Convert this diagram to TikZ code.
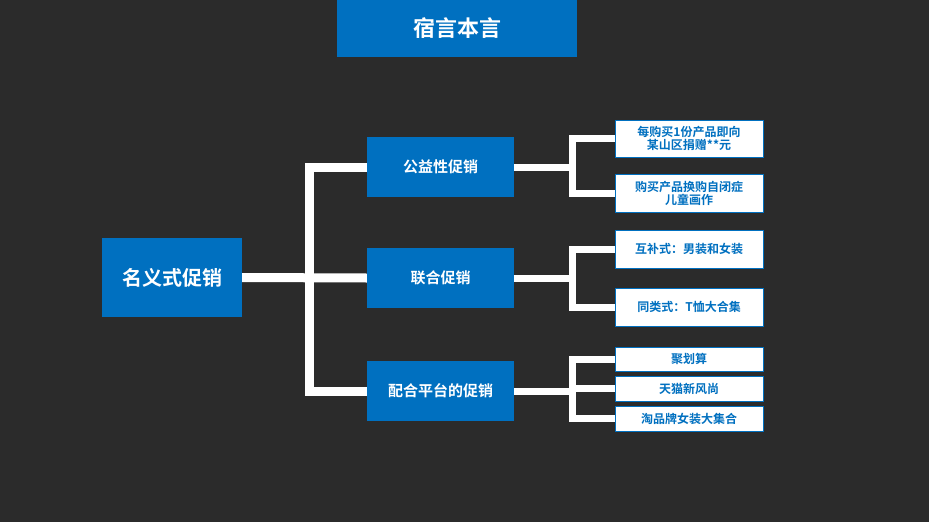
\documentclass[tikz,border=0pt]{standalone}
\usepackage{fontspec}
\setmainfont{Noto Sans CJK SC}[BoldFont={* Bold}]
\begin{document}
\begin{tikzpicture}[x=1pt,y=-1pt,
  bluebox/.style={fill=blue0,text=white,font=\bfseries,inner sep=0,align=center},
  leaf/.style={fill=white,draw=blue0,line width=1pt,text=blue0,font=\bfseries\fontsize{12}{13}\selectfont,minimum width=148pt,inner sep=0,align=center},
  link/.style={white,line width=9pt},
  slink/.style={white,line width=7pt}]
\definecolor{blue0}{HTML}{0070C0}
\fill[fill={rgb,255:red,43;green,43;blue,43}] (0,0) rectangle (929,522);
\useasboundingbox (0,0) rectangle (929,522);
\node[bluebox,minimum width=240pt,minimum height=57pt,font=\bfseries\fontsize{22}{24}\selectfont] (title) at (457,28.5) {宿言本言};
\node[bluebox,minimum width=140pt,minimum height=79pt,font=\bfseries\fontsize{20}{22}\selectfont] (main) at (172,277.5) {名义式促销};
\foreach \n/\y/\t in {m1/167/公益性促销,m2/278/联合促销,m3/391/配合平台的促销}
  \node[bluebox,minimum width=147pt,minimum height=60pt,font=\bfseries\fontsize{15}{17}\selectfont] (\n) at (440.5,\y) {\t};
\node[leaf,minimum height=37pt] (l1) at (689,138.5) {每购买1份产品即向\\某山区捐赠**元};
\node[leaf,minimum height=38pt] (l2) at (689,193) {购买产品换购自闭症\\儿童画作};
\node[leaf,minimum height=38pt] (l3) at (689,249) {互补式：男装和女装};
\node[leaf,minimum height=38pt] (l4) at (689,307) {同类式：T恤大合集};
\node[leaf,minimum height=24pt] (l5) at (689,359) {聚划算};
\node[leaf,minimum height=25pt] (l6) at (689,388.5) {天猫新风尚};
\node[leaf,minimum height=25pt] (l7) at (689,418.5) {淘品牌女装大集合};
\draw[link] (main.east) -- (m2.west);
\draw[link] (m1.west) -- ++(-57,0) |- (m3.west);
\draw[slink] (m1.east) -- ++(59,0);
\draw[slink] (l1.west) -- ++(-42,0) |- (l2.west);
\draw[slink] (m2.east) -- ++(59,0);
\draw[slink] (l3.west) -- ++(-42,0) |- (l4.west);
\draw[slink] (m3.east) -- ++(59,0);
\draw[slink] (l5.west) -- ++(-42,0) |- (l7.west);
\draw[slink] (l6.west) -- ++(-42,0);
\end{tikzpicture}
\end{document}
